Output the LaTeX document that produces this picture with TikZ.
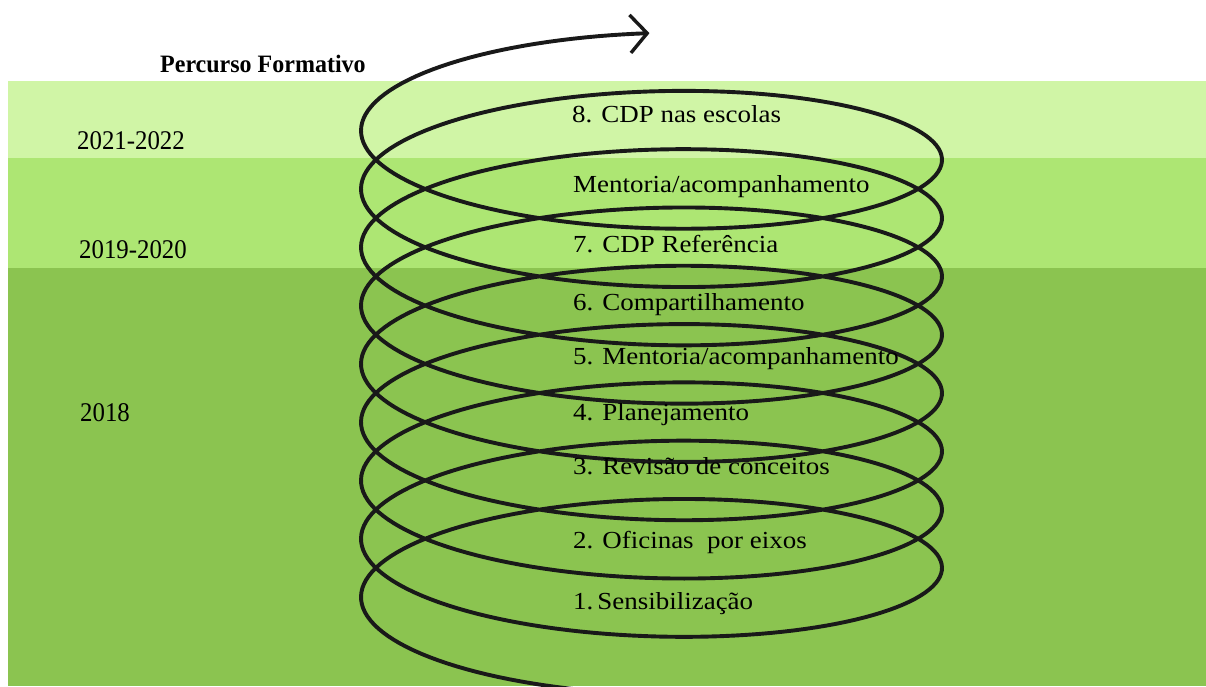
\documentclass[tikz,border=0pt]{standalone}
\usepackage{fontspec}
\setmainfont{Liberation Serif}
\newfontfamily\stagefont[FakeStretch=1.1]{Liberation Serif}
\newfontfamily\yearfont[FakeStretch=0.92]{Liberation Serif}
\newfontfamily\headfont[FakeStretch=0.96]{Liberation Serif}
\usetikzlibrary{arrows.meta}
\definecolor{bandlight}{RGB}{208,245,166}
\definecolor{bandmid}{RGB}{173,230,115}
\definecolor{banddark}{RGB}{139,196,80}
\begin{document}
\begin{tikzpicture}[x=1pt,y=-1pt,
  stagetext/.style={anchor=base west, inner sep=0pt, font=\stagefont\fontsize{24.5}{28}\selectfont},
  yeartext/.style={anchor=base west, inner sep=0pt, font=\yearfont\fontsize{27}{31}\selectfont},
  headtext/.style={anchor=base west, inner sep=0pt, font=\headfont\bfseries\fontsize{25}{29}\selectfont},
  coil/.style={line width=3.9pt, black!90},
]
\useasboundingbox (0,0) rectangle (1206,686);
\fill[white] (0,0) rectangle (1206,686);

% period bands
\fill[bandlight] (8,81) rectangle (1206,158);
\fill[bandmid]   (8,158) rectangle (1206,268);
\fill[banddark]  (8,268) rectangle (1206,686);

% the rising spiral, nine turns, ending in an open arrow
\begin{scope}
  \clip (0,0) rectangle (1206,686);
  \draw[coil, -{Straight Barb[length=17pt,width=38pt,line width=3.4pt]}]
    plot[domain=55.0:1.5708, samples=1200]
    ({651.5+290.5*cos(\x r)}, {101.5-83*sin(\x r)+58.3*\x/6.28319});
\end{scope}

% heading and periods
\node[headtext] (head) at (160,72) {Percurso Formativo};
\node[yeartext] (p1) at (77,149) {2021-2022};
\node[yeartext] (p2) at (79,258) {2019-2020};
\node[yeartext] (p3) at (80,421) {2018};

% stages of the course
\node[stagetext] (s8) at (572,122) {8. CDP nas escolas};
\node[stagetext] (sm) at (573,192) {Mentoria/acompanhamento};
\node[stagetext] (s7) at (573,252) {7. CDP Referência};
\node[stagetext] (s6) at (573,310) {6. Compartilhamento};
\node[stagetext] (s5) at (573,364) {5. Mentoria/acompanhamento};
\node[stagetext] (s4) at (573,420) {4. Planejamento};
\node[stagetext] (s3) at (573,474) {3. Revisão de conceitos};
\node[stagetext] (s2) at (573,548) {2. Oficinas\ \ por eixos};
\node[stagetext] (s1) at (573,609) {1.\,Sensibilização};
\end{tikzpicture}
\end{document}
